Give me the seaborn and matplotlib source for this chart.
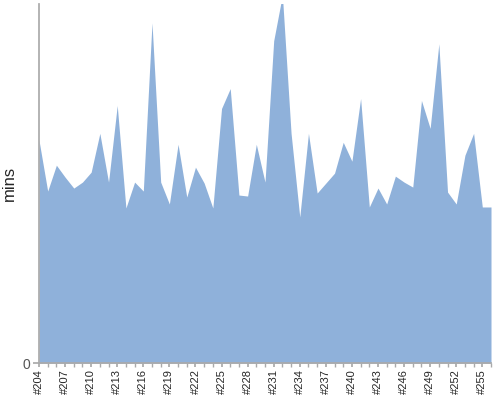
import numpy as np
import matplotlib
matplotlib.use('Agg')
import matplotlib.pyplot as plt
import seaborn as sns

sns.set_theme(style='white')
plt.rcParams['font.family'] = ['Liberation Sans', 'DejaVu Sans']

# build numbers and durations (minutes)
builds = list(range(204, 257))
mins = [22.4, 17.3, 19.9, 18.7, 17.6, 18.2, 19.2, 23.1, 18.2, 25.9, 15.6, 18.2, 17.3, 34.2,
        18.2, 16.0, 22.0, 16.7, 19.7, 18.1, 15.6, 25.6, 27.6, 16.9, 16.8, 22.0, 18.2, 32.4,
        37.0, 23.1, 14.7, 23.1, 17.1, 18.1, 19.1, 22.2, 20.3, 26.6, 15.7, 17.6, 16.0, 18.8,
        18.2, 17.7, 26.4, 23.6, 32.1, 17.2, 16.0, 20.9, 23.1, 15.7, 15.7]

fig = plt.figure(figsize=(5, 4), dpi=100)
ax = fig.add_axes([0.078, 0.092, 0.904, 0.898])
x = np.arange(len(builds))
ax.fill_between(x, mins, 0, color='#8fb1da', linewidth=0)
ax.set_xlim(0, len(builds) - 1)
ax.set_ylim(0, 36.1)
ax.set_yticks([0])
ax.set_yticklabels(['0'], color='#555555', fontsize=10)
ax.set_xticks(x, minor=True)
ax.set_xticks(x[::3])
ax.set_xticklabels([f'#{b}' for b in builds[::3]], rotation=90, fontsize=8)
ax.tick_params(axis='x', which='both', bottom=True, length=3, color='#aaaaaa', pad=1)
ax.tick_params(axis='y', left=True, length=4, color='#aaaaaa', pad=2)
ax.set_ylabel('mins', fontsize=12)
for s in ['top', 'right']:
    ax.spines[s].set_visible(False)
for s in ['left', 'bottom']:
    ax.spines[s].set_color('#aaaaaa')
fig.savefig('out.png')
